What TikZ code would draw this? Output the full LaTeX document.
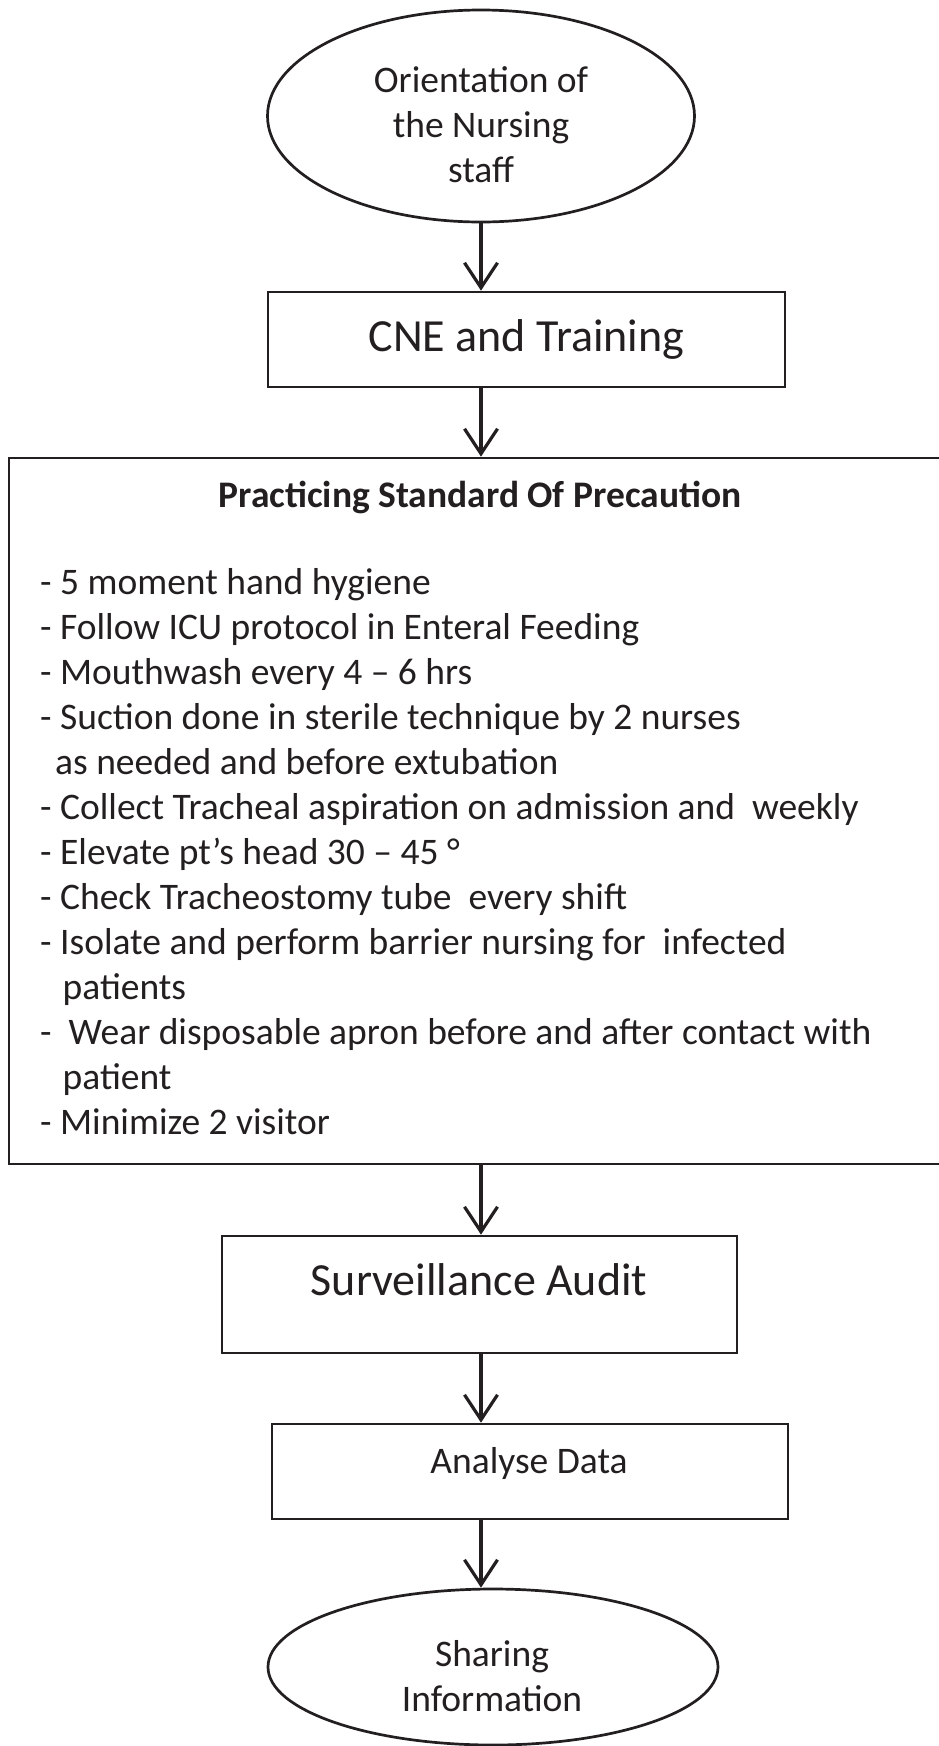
\documentclass[tikz,border=0pt]{standalone}
\usepackage{fontspec}
\setmainfont{Carlito}
\usetikzlibrary{shapes.geometric,arrows.meta}
\definecolor{ink}{HTML}{231F20}
\begin{document}
\begin{tikzpicture}[x=1pt,y=-1pt,
  box/.style={draw=ink, line width=2.7pt, rectangle, inner sep=0pt, text=ink},
  oval/.style={draw=ink, line width=2.7pt, ellipse, inner sep=0pt},
  lbl/.style={text=ink, inner sep=0pt, align=center},
  flow/.style={draw=ink, line width=3.2pt, -{Straight Barb[length=25pt,width=33pt,line width=3.2pt]}},
]
\useasboundingbox (0,0) rectangle (939,1746);
\clip (0,0) rectangle (939,1746);

% start
\node[oval, minimum width=427pt, minimum height=212pt] (orient) at (481,116) {};
\node[lbl, font=\fontsize{37.5}{45}\selectfont] (orienttext) at (481,125)
  {Orientation of\\the Nursing\\staff};

% training
\node[box, minimum width=517pt, minimum height=95pt,
      font=\fontsize{46}{50}\selectfont] (cne) at (526.5,339.5) {CNE and Training};

% precautions
\node[box, minimum width=944pt, minimum height=706pt] (prec) at (481,811) {};
\node[lbl, font=\fontsize{37.5}{45}\bfseries\selectfont] (prectitle) at (480,497)
  {Practicing Standard Of Precaution};
\node[lbl, anchor=base west, align=left, font=\fontsize{37.5}{45}\selectfont] (preclist) at (40,1134)
  {- 5 moment hand hygiene\\
   - Follow ICU protocol in Enteral Feeding\\
   - Mouthwash every 4 -- 6 hrs\\
   - Suction done in sterile technique by 2 nurses\\
   \hspace*{0.4em}as needed and before extubation\\
   - Collect Tracheal aspiration on admission and \ weekly\\
   - Elevate pt’s head 30 -- 45 °\\
   - Check Tracheostomy tube \ every shift\\
   - Isolate and perform barrier nursing for \ infected\\
   \hspace*{0.6em}patients\\
   - \ Wear disposable apron before and after contact with\\
   \hspace*{0.6em}patient\\
   - Minimize 2 visitor};

% audit
\node[box, minimum width=515pt, minimum height=117pt] (audit) at (479.5,1294.5) {};
\node[lbl, font=\fontsize{46}{50}\selectfont] (audittext) at (479,1280) {Surveillance Audit};

% analysis
\node[box, minimum width=516pt, minimum height=95pt] (analyse) at (530,1471.5) {};
\node[lbl, font=\fontsize{37.5}{45}\selectfont] (analysetext) at (529,1463) {Analyse Data};

% end
\node[oval, minimum width=450pt, minimum height=156pt] (share) at (493,1667) {};
\node[lbl, font=\fontsize{37.5}{45}\selectfont] (sharetext) at (492,1676)
  {Sharing\\Information};

% connectors
\draw[flow] (orient.south) -- (orient.south |- cne.north);
\draw[flow] (orient.south |- cne.south) -- (prec.north);
\draw[flow] (prec.south) -- (prec.south |- audit.north);
\draw[flow] (prec.south |- audit.south) -- (prec.south |- analyse.north);
\draw[flow] (prec.south |- analyse.south) -- (prec.south |- share.north);
\end{tikzpicture}
\end{document}
